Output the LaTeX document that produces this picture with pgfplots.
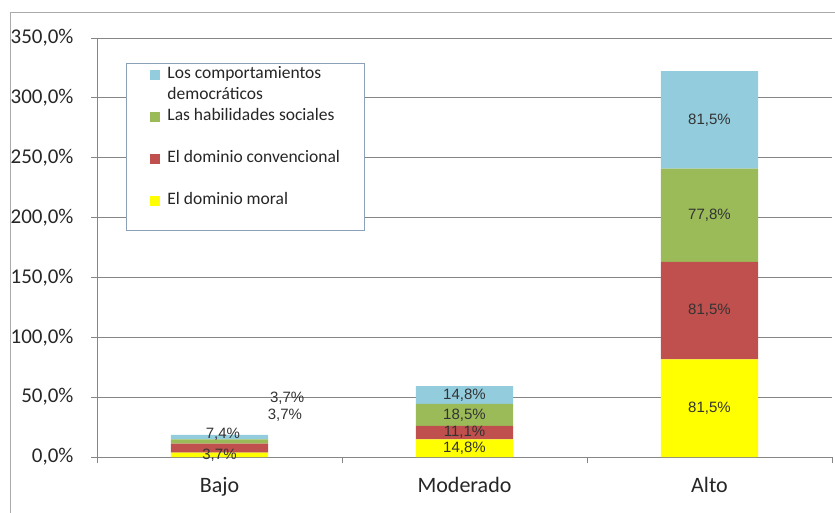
\documentclass[border=0pt]{standalone}
\usepackage{fontspec}
\setmainfont{Carlito}
\newfontfamily\arialf{Liberation Sans}
\usepackage{pgfplots}
\pgfplotsset{compat=1.18}
\definecolor{cblue}{HTML}{93CDDD}
\definecolor{cgreen}{HTML}{9BBB59}
\definecolor{cred}{HTML}{C0504D}
\definecolor{cyellow}{HTML}{FFFF00}
\definecolor{gridc}{HTML}{868686}
\definecolor{legc}{HTML}{8CA0B9}
\definecolor{labc}{HTML}{333333}
\pgfplotsset{legimg/.style={legend image code/.code={\fill[##1] (0pt,-1pt) rectangle (10pt,9pt);}}}
\begin{document}
\begin{tikzpicture}
\begin{axis}[
 scale only axis, width=735pt, height=419pt,
 ybar stacked, bar width=0.396,
 xmin=-0.5, xmax=2.5, ymin=0, ymax=350,
 axis lines=left, axis line style={draw=gridc, line width=0.8pt, -},
 ymajorgrids, grid style={draw=gridc, line width=0.8pt},
 ytick={0,50,...,350},
 yticklabels={{0,0\%},{50,0\%},{100,0\%},{150,0\%},{200,0\%},{250,0\%},{300,0\%},{350,0\%}},
 xtick={-0.5,0.5,1.5,2.5}, xticklabels={},
 extra x ticks={0,1,2}, extra x tick labels={Bajo,Moderado,Alto},
 extra x tick style={major tick length=0pt, grid=none},
 tick align=outside, major tick length=6pt, tick style={draw=gridc, line width=0.8pt},
 yticklabel style={font=\fontsize{21}{25}\selectfont, text=black!85, xshift=-14pt},
 xticklabel style={font=\fontsize{22}{26}\selectfont, text=black!85, yshift=-17pt},
 legend style={at={(0.0395,0.9403)}, anchor=north west, draw=legc, line width=0.8pt,
   inner xsep=24pt, inner ysep=1pt, row sep=21.6pt, column sep=7pt,
   font=\fontsize{17.5}{21}\selectfont, text=black!85,
   cells={anchor=base west}, nodes={inner sep=0pt, text height=14.3pt, text depth=6.1pt}},
 reverse legend,
]
\addplot[fill=cyellow, draw=none, legimg] coordinates {(0,3.7) (1,14.8) (2,81.5)};
\addlegendentry[text depth=24.5pt]{El dominio moral}
\addplot[fill=cred, draw=none, legimg] coordinates {(0,7.4) (1,11.1) (2,81.5)};
\addlegendentry{El dominio convencional}
\addplot[fill=cgreen, draw=none, legimg] coordinates {(0,3.7) (1,18.5) (2,77.8)};
\addlegendentry{Las habilidades sociales}
\addplot[fill=cblue, draw=none, legimg] coordinates {(0,3.7) (1,14.8) (2,81.5)};
\addlegendentry{\smash{\begin{tabular}[t]{@{}l@{}}Los comportamientos\\democráticos\end{tabular}}}
\coordinate (b1) at (axis cs:0,1.7);
\coordinate (b2) at (axis cs:0.014,19.2);
\coordinate (b3) at (axis cs:0.276,49.3);
\coordinate (b4) at (axis cs:0.267,35.1);
\coordinate (m1) at (axis cs:1,7.4);
\coordinate (m2) at (axis cs:1,20.35);
\coordinate (m3) at (axis cs:1,35.15);
\coordinate (m4) at (axis cs:1,51.8);
\coordinate (a1) at (axis cs:2,40.75);
\coordinate (a2) at (axis cs:2,122.25);
\coordinate (a3) at (axis cs:2,201.9);
\coordinate (a4) at (axis cs:2,281.55);
\end{axis}
\tikzset{lab/.style={font=\arialf\fontsize{15}{18}\selectfont, text=labc, inner sep=0pt}}
\node[lab] at (b1) {3,7\%};
\node[lab] at (b2) {7,4\%};
\node[lab] at (b3) {3,7\%};
\node[lab] at (b4) {3,7\%};
\node[lab] at (m1) {14,8\%};
\node[lab] at (m2) {11,1\%};
\node[lab] at (m3) {18,5\%};
\node[lab] at (m4) {14,8\%};
\node[lab] at (a1) {81,5\%};
\node[lab] at (a2) {81,5\%};
\node[lab] at (a3) {77,8\%};
\node[lab] at (a4) {81,5\%};
\draw[gridc!70, line width=0.8pt] (-87pt,-70pt) -- (-87pt,445pt) -- (760pt,445pt);
\pgfresetboundingbox
\path (-97pt,-55pt) rectangle (738pt,457pt);
\end{tikzpicture}
\end{document}
